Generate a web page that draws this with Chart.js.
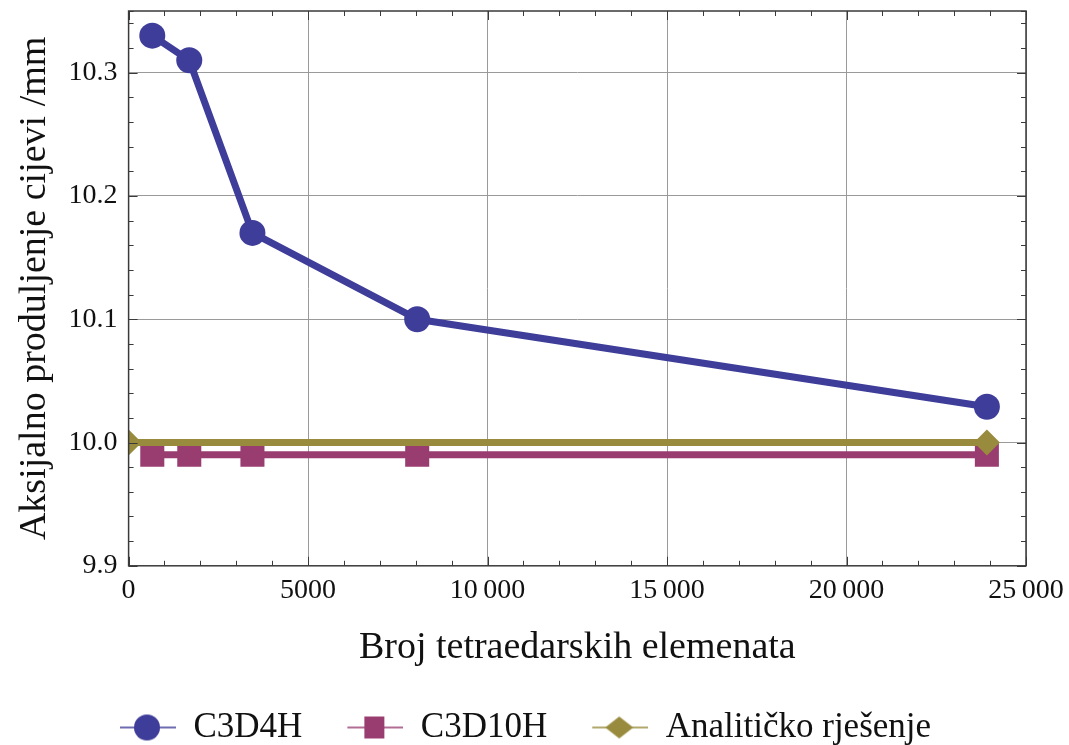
<!DOCTYPE html>
<html>
<head>
<meta charset="utf-8">
<script src="https://cdn.jsdelivr.net/npm/chart.js@4.4.0/dist/chart.umd.min.js"></script>
<style>
  html, body { margin: 0; padding: 0; background: #fff; }
</style>
</head>
<body>
<canvas id="chart" width="1069" height="745"></canvas>
<script>
// values
const elementCounts = [660, 1690, 3450, 8040, 23910];
const c3d4hValues = [10.33, 10.31, 10.17, 10.10, 10.029];
const c3d10hValues = [9.99, 9.99, 9.99, 9.99, 9.99];
const analyticCounts = [0, 23910];
const analyticValues = [10.0, 10.0];
const seriesNames = ["C3D4H", "C3D10H", "Analitičko rješenje"];
const xTickLabels = ["0", "5000", "10\u2009000", "15\u2009000", "20\u2009000", "25\u2009000"];
const yTickLabels = ["9.9", "10.0", "10.1", "10.2", "10.3"];

const BLUE = "rgb(62,61,153)";
const MAGENTA = "rgb(153,61,113)";
const OLIVE = "rgb(153,139,61)";
const SERIF = "'Liberation Serif', 'Times New Roman', serif";

const isMajorX = (v) => v % 5000 === 0;
const isMajorY = (v) => Math.abs(v * 10 - Math.round(v * 10)) < 1e-6;

function toPoints(xs, ys) {
  return xs.map((x, i) => ({ x, y: ys[i] }));
}

// small picture for the legend: thin line with the marker on it
function legendSymbol(color, shape) {
  const c = document.createElement("canvas");
  c.width = 81;
  c.height = 32;
  const g = c.getContext("2d");
  const cx = 25 + 27;
  const cy = 16;
  g.strokeStyle = color;
  g.lineWidth = 1.5;
  g.beginPath();
  g.moveTo(25, cy);
  g.lineTo(81, cy);
  g.stroke();
  g.fillStyle = color;
  g.beginPath();
  if (shape === "circle") {
    g.arc(cx, cy, 13, 0, Math.PI * 2);
  } else if (shape === "rect") {
    g.rect(cx - 10, cy - 11, 20, 22);
  } else {
    g.moveTo(cx - 14, cy);
    g.lineTo(cx, cy - 11);
    g.lineTo(cx + 14, cy);
    g.lineTo(cx, cy + 11);
    g.closePath();
  }
  g.fill();
  return c;
}

const legendSymbols = [
  legendSymbol(BLUE, "circle"),
  legendSymbol(MAGENTA, "rect"),
  legendSymbol(OLIVE, "diamond")
];

// inside tick marks on all four sides plus the frame
const frameTicks = {
  id: "frameTicks",
  afterDatasetsDraw(chart) {
    const { ctx, chartArea: a } = chart;
    const xs = chart.scales.x;
    const ys = chart.scales.y;
    ctx.save();
    ctx.strokeStyle = "#3a3a3a";
    ctx.lineWidth = 1;
    ctx.beginPath();
    xs.ticks.forEach((t) => {
      const px = Math.round(xs.getPixelForValue(t.value)) + 0.5;
      const len = isMajorX(t.value) ? 9 : 5;
      ctx.moveTo(px, a.bottom);
      ctx.lineTo(px, a.bottom - len);
      ctx.moveTo(px, a.top);
      ctx.lineTo(px, a.top + len);
    });
    ys.ticks.forEach((t) => {
      const py = Math.round(ys.getPixelForValue(t.value)) + 0.5;
      const len = isMajorY(t.value) ? 9 : 5;
      ctx.moveTo(a.left, py);
      ctx.lineTo(a.left + len, py);
      ctx.moveTo(a.right, py);
      ctx.lineTo(a.right - len, py);
    });
    ctx.stroke();
    ctx.lineWidth = 1.5;
    ctx.strokeRect(a.left, a.top, a.right - a.left, a.bottom - a.top);
    ctx.restore();
  }
};

function noScalePadding(scale) {
  scale.paddingTop = 0;
  scale.paddingBottom = 0;
  scale.paddingLeft = 0;
  scale.paddingRight = 0;
}

const ctx = document.getElementById("chart").getContext("2d");

new Chart(ctx, {
  type: "line",
  data: {
    datasets: [
      {
        label: seriesNames[0],
        data: toPoints(elementCounts, c3d4hValues),
        borderColor: BLUE,
        backgroundColor: BLUE,
        borderWidth: 7,
        borderJoinStyle: "round",
        pointStyle: "circle",
        pointRadius: 13,
        pointBorderWidth: 0,
        order: 3,
        clip: 0
      },
      {
        label: seriesNames[1],
        data: toPoints(elementCounts, c3d10hValues),
        borderColor: MAGENTA,
        backgroundColor: MAGENTA,
        borderWidth: 7,
        pointStyle: "rect",
        pointRadius: 17,
        pointBorderWidth: 0,
        order: 2,
        clip: 0
      },
      {
        label: seriesNames[2],
        data: toPoints(analyticCounts, analyticValues),
        borderColor: OLIVE,
        backgroundColor: OLIVE,
        borderWidth: 7,
        pointStyle: "rectRot",
        pointRadius: 13,
        pointBorderWidth: 0,
        order: 1,
        clip: 0
      }
    ]
  },
  options: {
    responsive: false,
    animation: false,
    devicePixelRatio: 1,
    layout: {
      autoPadding: false,
      padding: { left: 0, right: 43, top: 11, bottom: -10 }
    },
    plugins: {
      tooltip: { enabled: false },
      legend: {
        position: "bottom",
        labels: {
          usePointStyle: true,
          pointStyleWidth: 81,
          padding: 20,
          color: "#111",
          font: { family: SERIF, size: 35 },
          generateLabels: (chart) =>
            chart.data.datasets.map((ds, i) => ({
              text: ds.label,
              pointStyle: legendSymbols[i],
              fillStyle: ds.borderColor,
              strokeStyle: ds.borderColor,
              lineWidth: 0,
              fontColor: "#111",
              datasetIndex: i
            }))
        }
      }
    },
    scales: {
      x: {
        type: "linear",
        min: 0,
        max: 25000,
        bounds: "data",
        afterFit: noScalePadding,
        border: { display: false },
        grid: {
          drawTicks: false,
          lineWidth: 1,
          color: (c) => (c.tick && isMajorX(c.tick.value) ? "#9a9a9a" : "rgba(0,0,0,0)")
        },
        ticks: {
          stepSize: 1000,
          autoSkip: false,
          maxRotation: 0,
          padding: 8,
          color: "#111",
          font: { family: SERIF, size: 28 },
          callback: (v) => (isMajorX(v) ? xTickLabels[v / 5000] : "")
        },
        title: {
          display: true,
          text: "Broj tetraedarskih elemenata",
          color: "#111",
          font: { family: SERIF, size: 38 },
          padding: { top: 10, bottom: 19 }
        }
      },
      y: {
        type: "linear",
        min: 9.9,
        max: 10.35,
        bounds: "data",
        afterFit: noScalePadding,
        border: { display: false },
        grid: {
          drawTicks: false,
          lineWidth: 1,
          color: (c) => (c.tick && isMajorY(c.tick.value) && c.tick.value > 9.95 ? "#9a9a9a" : "rgba(0,0,0,0)")
        },
        ticks: {
          stepSize: 0.02,
          autoSkip: false,
          includeBounds: false,
          padding: 11,
          color: "#111",
          font: { family: SERIF, size: 28, lineHeight: 0.78 },
          callback: (v) => (isMajorY(v) ? yTickLabels[Math.round((v - 9.9) * 10)] : "")
        },
        title: {
          display: true,
          text: "Aksijalno produljenje cijevi /mm",
          color: "#111",
          font: { family: SERIF, size: 38 },
          padding: { top: 12, bottom: 0 }
        }
      }
    }
  },
  plugins: [frameTicks]
});
</script>
</body>
</html>
